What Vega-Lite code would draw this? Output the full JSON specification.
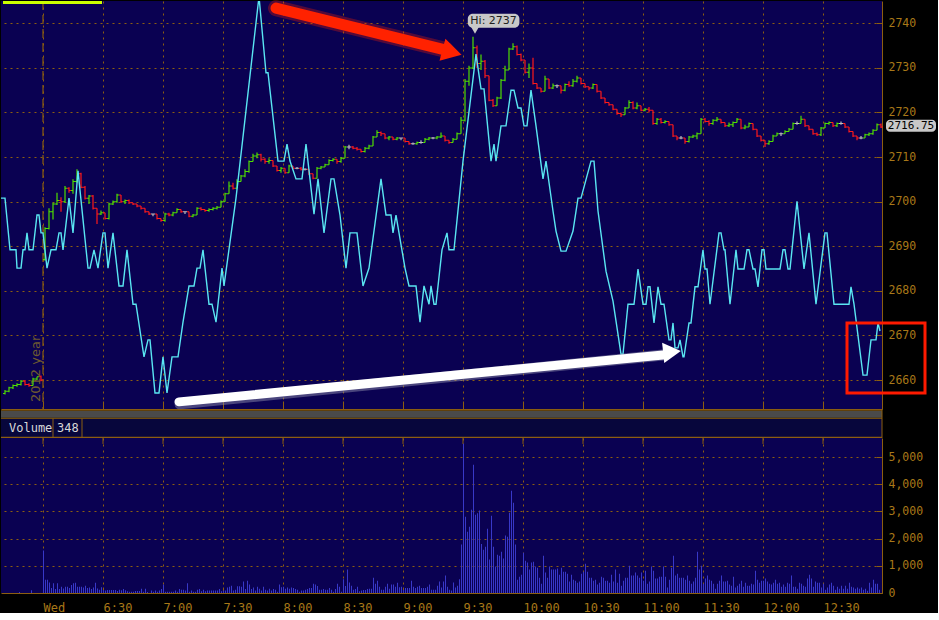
{
"$schema": "https://vega.github.io/schema/vega-lite/v6.json",
"background": "#000000",
"padding": {"left": 0, "top": 0, "right": 2, "bottom": 0},
"config": {
  "view": {"stroke": null},
  "scale": {"continuousPadding": 0},
  "axis": {"labelFont": "DejaVu Sans Mono", "labelColor": "#a87818", "domainColor": "#8c5e10", "tickColor": "#8c5e10", "gridColor": "#8c5e10", "gridDash": [2, 4], "gridOpacity": 1, "gridWidth": 1}
},
"datasets": {
"one": [{}],
"halfhours": [{"m":360},{"m":390},{"m":420},{"m":450},{"m":480},{"m":510},{"m":540},{"m":570},{"m":600},{"m":630},{"m":660},{"m":690},{"m":720},{"m":750}],
"bars": [
{"m":340,"o":2657,"h":2657.75,"l":2656.75,"c":2657.5},{"m":342,"o":2657.5,"h":2658.5,"l":2657.25,"c":2658.25},{"m":344,"o":2658.25,"h":2659,"l":2658,"c":2658.75},{"m":346,"o":2658.75,"h":2659.25,"l":2658.5,"c":2659},{"m":348,"o":2659,"h":2660,"l":2658.75,"c":2659.75},{"m":350,"o":2659.75,"h":2660,"l":2658.75,"c":2659},{"m":352,"o":2659,"h":2659.25,"l":2658.5,"c":2658.75},{"m":354,"o":2658.75,"h":2660.5,"l":2658.75,"c":2660.25},{"m":356,"o":2660.25,"h":2660.75,"l":2660,"c":2660.75},{"m":358,"o":2660.75,"h":2661,"l":2659.75,"c":2660},
{"m":360,"o":2687,"h":2694.25,"l":2686.75,"c":2694},{"m":362,"o":2694,"h":2698.5,"l":2693.75,"c":2697.75},{"m":364,"o":2697.75,"h":2699.75,"l":2696,"c":2699.5},{"m":366,"o":2699.5,"h":2702,"l":2699.25,"c":2700.25},{"m":368,"o":2700.25,"h":2701,"l":2697.75,"c":2700},{"m":370,"o":2700,"h":2703.5,"l":2699.75,"c":2703},{"m":372,"o":2703,"h":2703.25,"l":2702,"c":2702.5},{"m":374,"o":2702.5,"h":2705,"l":2701.75,"c":2704.5},{"m":376,"o":2704.5,"h":2707.25,"l":2704.25,"c":2706.25},{"m":378,"o":2706.25,"h":2706.5,"l":2703,"c":2703.25},
{"m":380,"o":2703.25,"h":2703.5,"l":2700.5,"c":2700.75},{"m":382,"o":2700.75,"h":2701.5,"l":2699.5,"c":2701.25},{"m":384,"o":2701.25,"h":2701.5,"l":2698.25,"c":2698.5},{"m":386,"o":2698.5,"h":2698.5,"l":2695,"c":2697.25},{"m":388,"o":2697.25,"h":2698,"l":2697,"c":2697.5},{"m":390,"o":2697.5,"h":2697.5,"l":2696,"c":2696.25},{"m":392,"o":2696.25,"h":2699.75,"l":2696,"c":2699.5},{"m":394,"o":2699.5,"h":2700.25,"l":2699.25,"c":2700},{"m":396,"o":2700,"h":2701.75,"l":2699.75,"c":2701.5},{"m":398,"o":2701.5,"h":2701.5,"l":2699.75,"c":2700},
{"m":400,"o":2700,"h":2700.5,"l":2699.5,"c":2700.25},{"m":402,"o":2700.25,"h":2700.5,"l":2699.5,"c":2699.75},{"m":404,"o":2699.75,"h":2699.75,"l":2699.25,"c":2699.5},{"m":406,"o":2699.5,"h":2699.5,"l":2698.75,"c":2699},{"m":408,"o":2699,"h":2699,"l":2698.25,"c":2698.5},{"m":410,"o":2698.5,"h":2698.5,"l":2697.5,"c":2697.75},{"m":412,"o":2697.75,"h":2697.75,"l":2697,"c":2697.25},{"m":414,"o":2697.25,"h":2697.25,"l":2696.75,"c":2697.25},{"m":416,"o":2697.25,"h":2697.25,"l":2696,"c":2696.25},{"m":418,"o":2696.25,"h":2696.25,"l":2695.5,"c":2695.75},
{"m":420,"o":2695.75,"h":2697.5,"l":2695.5,"c":2697.25},{"m":422,"o":2697.25,"h":2697.5,"l":2696.75,"c":2697},{"m":424,"o":2697,"h":2697.75,"l":2696.75,"c":2697.5},{"m":426,"o":2697.5,"h":2698.5,"l":2697.5,"c":2698.25},{"m":428,"o":2698.25,"h":2698.25,"l":2697.5,"c":2697.75},{"m":430,"o":2697.75,"h":2697.75,"l":2697.25,"c":2697.75},{"m":432,"o":2697.75,"h":2697.75,"l":2696.5,"c":2696.75},{"m":434,"o":2696.75,"h":2697.25,"l":2696.5,"c":2697},{"m":436,"o":2697,"h":2698.75,"l":2697,"c":2698.5},{"m":438,"o":2698.5,"h":2698.75,"l":2698,"c":2698.25},
{"m":440,"o":2698.25,"h":2698.25,"l":2697.75,"c":2698},{"m":442,"o":2698,"h":2698.5,"l":2697.75,"c":2698.25},{"m":444,"o":2698.25,"h":2698.75,"l":2698,"c":2698.5},{"m":446,"o":2698.5,"h":2699,"l":2698.25,"c":2698.75},{"m":448,"o":2698.75,"h":2700.25,"l":2698.75,"c":2700},{"m":450,"o":2700,"h":2702,"l":2700,"c":2701.75},{"m":452,"o":2701.75,"h":2704.5,"l":2701.75,"c":2703.5},{"m":454,"o":2703.5,"h":2704.25,"l":2702.75,"c":2703},{"m":456,"o":2703,"h":2705,"l":2703,"c":2704.5},{"m":458,"o":2704.5,"h":2706,"l":2704.5,"c":2705.75},
{"m":460,"o":2705.75,"h":2707.25,"l":2705.5,"c":2706.75},{"m":462,"o":2706.75,"h":2709.25,"l":2706.5,"c":2709},{"m":464,"o":2709,"h":2710.75,"l":2709,"c":2710.25},{"m":466,"o":2710.25,"h":2711,"l":2709.75,"c":2710.5},{"m":468,"o":2710.5,"h":2710.75,"l":2709,"c":2709.5},{"m":470,"o":2709.5,"h":2709.75,"l":2708.5,"c":2709},{"m":472,"o":2709,"h":2709.75,"l":2708.5,"c":2709.25},{"m":474,"o":2709.25,"h":2709.25,"l":2707.75,"c":2708},{"m":476,"o":2708,"h":2708,"l":2706.75,"c":2707},{"m":478,"o":2707,"h":2707.75,"l":2706.5,"c":2707.5},
{"m":480,"o":2707.5,"h":2707.5,"l":2706.25,"c":2706.5},{"m":482,"o":2706.5,"h":2708.25,"l":2706.5,"c":2708},{"m":484,"o":2708,"h":2708,"l":2707.25,"c":2707.5},{"m":486,"o":2707.5,"h":2707.75,"l":2707.25,"c":2707.5},{"m":488,"o":2707.5,"h":2707.75,"l":2707,"c":2707.25},{"m":490,"o":2707.25,"h":2707.5,"l":2707,"c":2707.25},{"m":492,"o":2707.25,"h":2707.25,"l":2706,"c":2706.25},{"m":494,"o":2706.25,"h":2706.25,"l":2705,"c":2705.25},{"m":496,"o":2705.25,"h":2707.75,"l":2705.25,"c":2707.5},{"m":498,"o":2707.5,"h":2708,"l":2707.25,"c":2707.75},
{"m":500,"o":2707.75,"h":2708.5,"l":2707.75,"c":2708.25},{"m":502,"o":2708.25,"h":2709.5,"l":2708.25,"c":2709.25},{"m":504,"o":2709.25,"h":2709.75,"l":2709,"c":2709.5},{"m":506,"o":2709.5,"h":2709.5,"l":2708.5,"c":2709},{"m":508,"o":2709,"h":2710,"l":2708.75,"c":2709.75},{"m":510,"o":2709.75,"h":2712.5,"l":2709.75,"c":2712.25},{"m":512,"o":2712.25,"h":2712.75,"l":2711.75,"c":2712.25},{"m":514,"o":2712.25,"h":2712.5,"l":2711.75,"c":2712},{"m":516,"o":2712,"h":2712.25,"l":2711.5,"c":2711.75},{"m":518,"o":2711.75,"h":2711.75,"l":2711,"c":2711.25},
{"m":520,"o":2711.25,"h":2712.25,"l":2711,"c":2712},{"m":522,"o":2712,"h":2712.75,"l":2711.75,"c":2712.5},{"m":524,"o":2712.5,"h":2714.75,"l":2712.5,"c":2714.5},{"m":526,"o":2714.5,"h":2716,"l":2714.5,"c":2715.5},{"m":528,"o":2715.5,"h":2715.75,"l":2714.75,"c":2715.25},{"m":530,"o":2715.25,"h":2715.25,"l":2714,"c":2714.25},{"m":532,"o":2714.25,"h":2714.75,"l":2713.75,"c":2714.5},{"m":534,"o":2714.5,"h":2714.5,"l":2713.75,"c":2714},{"m":536,"o":2714,"h":2714.5,"l":2713.75,"c":2714.25},{"m":538,"o":2714.25,"h":2714.25,"l":2713.75,"c":2714.25},
{"m":540,"o":2714.25,"h":2714.25,"l":2713.25,"c":2713.5},{"m":542,"o":2713.5,"h":2713.5,"l":2712.75,"c":2713},{"m":544,"o":2713,"h":2713.25,"l":2712.75,"c":2713},{"m":546,"o":2713,"h":2713.5,"l":2712.75,"c":2713.25},{"m":548,"o":2713.25,"h":2713.75,"l":2713,"c":2713.25},{"m":550,"o":2713.25,"h":2714.25,"l":2713.25,"c":2714},{"m":552,"o":2714,"h":2714.5,"l":2713.75,"c":2714.25},{"m":554,"o":2714.25,"h":2714.5,"l":2714,"c":2714.25},{"m":556,"o":2714.25,"h":2714.75,"l":2714,"c":2714.5},{"m":558,"o":2714.5,"h":2715.5,"l":2714.25,"c":2714.75},
{"m":560,"o":2714.75,"h":2714.75,"l":2713.5,"c":2713.75},{"m":562,"o":2713.75,"h":2713.75,"l":2713,"c":2713.25},{"m":564,"o":2713.25,"h":2714.25,"l":2713.25,"c":2714},{"m":566,"o":2714,"h":2715.5,"l":2714,"c":2715.25},{"m":568,"o":2715.25,"h":2719,"l":2715.25,"c":2718.25},{"m":570,"o":2718.25,"h":2727.5,"l":2718,"c":2727},{"m":572,"o":2727,"h":2730.5,"l":2726,"c":2730},{"m":574,"o":2730,"h":2737,"l":2729.75,"c":2734.5},{"m":576,"o":2734.5,"h":2735,"l":2730,"c":2731},{"m":578,"o":2731,"h":2733,"l":2729.5,"c":2731.5},
{"m":580,"o":2731.5,"h":2731.75,"l":2727.75,"c":2728.25},{"m":582,"o":2728.25,"h":2728.25,"l":2722.5,"c":2722.75},{"m":584,"o":2722.75,"h":2723,"l":2721.25,"c":2721.5},{"m":586,"o":2721.5,"h":2723.5,"l":2721.5,"c":2723.25},{"m":588,"o":2723.25,"h":2727.5,"l":2723,"c":2727.25},{"m":590,"o":2727.25,"h":2730.5,"l":2727,"c":2729.5},{"m":592,"o":2729.5,"h":2734.5,"l":2729.5,"c":2734.25},{"m":594,"o":2734.25,"h":2735.5,"l":2734,"c":2734.75},{"m":596,"o":2734.75,"h":2735,"l":2732.75,"c":2733},{"m":598,"o":2733,"h":2733.25,"l":2731.5,"c":2731.75},
{"m":600,"o":2731.75,"h":2731.75,"l":2728.75,"c":2729},{"m":602,"o":2729,"h":2731,"l":2727.75,"c":2730},{"m":604,"o":2730,"h":2732.25,"l":2726.25,"c":2726.5},{"m":606,"o":2726.5,"h":2726.5,"l":2725.25,"c":2725.5},{"m":608,"o":2725.5,"h":2725.5,"l":2724.5,"c":2724.75},{"m":610,"o":2724.75,"h":2728.25,"l":2724.75,"c":2727.5},{"m":612,"o":2727.5,"h":2727.5,"l":2725.25,"c":2725.5},{"m":614,"o":2725.5,"h":2726.5,"l":2725.25,"c":2726},{"m":616,"o":2726,"h":2726.25,"l":2725.5,"c":2726},{"m":618,"o":2726,"h":2726,"l":2724.25,"c":2725},
{"m":620,"o":2725,"h":2726.5,"l":2724.75,"c":2726.25},{"m":622,"o":2726.25,"h":2727,"l":2725.75,"c":2726},{"m":624,"o":2726,"h":2727.5,"l":2725.75,"c":2727},{"m":626,"o":2727,"h":2728.25,"l":2726.75,"c":2727.75},{"m":628,"o":2727.75,"h":2727.75,"l":2726.25,"c":2726.5},{"m":630,"o":2726.5,"h":2726.5,"l":2725.5,"c":2725.75},{"m":632,"o":2725.75,"h":2725.75,"l":2725,"c":2725.5},{"m":634,"o":2725.5,"h":2726.5,"l":2725.25,"c":2726.25},{"m":636,"o":2726.25,"h":2726.25,"l":2724.5,"c":2724.75},{"m":638,"o":2724.75,"h":2724.75,"l":2723,"c":2723.25},
{"m":640,"o":2723.25,"h":2723.25,"l":2722,"c":2722.25},{"m":642,"o":2722.25,"h":2722.25,"l":2721.5,"c":2721.75},{"m":644,"o":2721.75,"h":2721.75,"l":2720.5,"c":2720.75},{"m":646,"o":2720.75,"h":2720.75,"l":2719.5,"c":2719.75},{"m":648,"o":2719.75,"h":2720,"l":2719,"c":2719.5},{"m":650,"o":2719.5,"h":2721.25,"l":2719.5,"c":2721},{"m":652,"o":2721,"h":2722.75,"l":2721,"c":2722.25},{"m":654,"o":2722.25,"h":2722.5,"l":2720.75,"c":2721},{"m":656,"o":2721,"h":2722.25,"l":2720.75,"c":2721.5},{"m":658,"o":2721.5,"h":2721.5,"l":2720.25,"c":2720.5},
{"m":660,"o":2720.5,"h":2721,"l":2720.25,"c":2720.75},{"m":662,"o":2720.75,"h":2721.25,"l":2720,"c":2720.5},{"m":664,"o":2720.5,"h":2720.5,"l":2717.25,"c":2717.5},{"m":666,"o":2717.5,"h":2718.75,"l":2717.25,"c":2718.5},{"m":668,"o":2718.5,"h":2718.75,"l":2717.5,"c":2717.75},{"m":670,"o":2717.75,"h":2718.25,"l":2717.5,"c":2718},{"m":672,"o":2718,"h":2718,"l":2717,"c":2717.25},{"m":674,"o":2717.25,"h":2717.25,"l":2714.5,"c":2714.75},{"m":676,"o":2714.75,"h":2714.75,"l":2713.75,"c":2714.25},{"m":678,"o":2714.25,"h":2714.75,"l":2714,"c":2714.25},
{"m":680,"o":2714.25,"h":2714.25,"l":2713,"c":2713.5},{"m":682,"o":2713.5,"h":2714.75,"l":2713.25,"c":2714.5},{"m":684,"o":2714.5,"h":2715,"l":2714.25,"c":2714.75},{"m":686,"o":2714.75,"h":2715.5,"l":2714,"c":2715.25},{"m":688,"o":2715.25,"h":2718.75,"l":2715.25,"c":2718.5},{"m":690,"o":2718.5,"h":2718.75,"l":2717.75,"c":2718},{"m":692,"o":2718,"h":2718.25,"l":2717,"c":2717.5},{"m":694,"o":2717.5,"h":2718.5,"l":2717.25,"c":2718.25},{"m":696,"o":2718.25,"h":2719,"l":2718,"c":2718.5},{"m":698,"o":2718.5,"h":2718.5,"l":2717.5,"c":2717.75},
{"m":700,"o":2717.75,"h":2717.75,"l":2716.75,"c":2717},{"m":702,"o":2717,"h":2717.75,"l":2716.75,"c":2717.25},{"m":704,"o":2717.25,"h":2718,"l":2716.75,"c":2717.75},{"m":706,"o":2717.75,"h":2718.75,"l":2717.75,"c":2718.5},{"m":708,"o":2718.5,"h":2718.5,"l":2716.25,"c":2716.5},{"m":710,"o":2716.5,"h":2717.25,"l":2716.25,"c":2716.75},{"m":712,"o":2716.75,"h":2717.75,"l":2716.75,"c":2717.5},{"m":714,"o":2717.5,"h":2717.5,"l":2716,"c":2716.25},{"m":716,"o":2716.25,"h":2716.25,"l":2714.5,"c":2714.75},{"m":718,"o":2714.75,"h":2714.75,"l":2713.5,"c":2713.75},
{"m":720,"o":2713.75,"h":2713.75,"l":2712.25,"c":2713},{"m":722,"o":2713,"h":2713.75,"l":2712.75,"c":2713.5},{"m":724,"o":2713.5,"h":2715,"l":2713.5,"c":2714.75},{"m":726,"o":2714.75,"h":2715.5,"l":2714.75,"c":2715.25},{"m":728,"o":2715.25,"h":2715.5,"l":2714.75,"c":2715.25},{"m":730,"o":2715.25,"h":2716,"l":2715.25,"c":2715.75},{"m":732,"o":2715.75,"h":2716.5,"l":2715.75,"c":2716.25},{"m":734,"o":2716.25,"h":2717.75,"l":2716.25,"c":2717.5},{"m":736,"o":2717.5,"h":2718,"l":2717.25,"c":2717.5},{"m":738,"o":2717.5,"h":2719.25,"l":2717.5,"c":2718.5},
{"m":740,"o":2718.5,"h":2718.5,"l":2716.75,"c":2717},{"m":742,"o":2717,"h":2717,"l":2716,"c":2716.25},{"m":744,"o":2716.25,"h":2716.25,"l":2715,"c":2715.25},{"m":746,"o":2715.25,"h":2715.5,"l":2714.75,"c":2715},{"m":748,"o":2715,"h":2716.75,"l":2714.75,"c":2716.5},{"m":750,"o":2716.5,"h":2717.75,"l":2716.5,"c":2717.5},{"m":752,"o":2717.5,"h":2718,"l":2717.25,"c":2717.75},{"m":754,"o":2717.75,"h":2717.75,"l":2716.75,"c":2717},{"m":756,"o":2717,"h":2717.75,"l":2716.75,"c":2717.5},{"m":758,"o":2717.5,"h":2718,"l":2717.25,"c":2717.5},
{"m":760,"o":2717.5,"h":2717.5,"l":2716.5,"c":2716.75},{"m":762,"o":2716.75,"h":2716.75,"l":2715.5,"c":2715.75},{"m":764,"o":2715.75,"h":2715.75,"l":2714.5,"c":2714.75},{"m":766,"o":2714.75,"h":2714.75,"l":2713.75,"c":2714.25},{"m":768,"o":2714.25,"h":2714.75,"l":2714,"c":2714.25},{"m":770,"o":2714.25,"h":2715.25,"l":2714.25,"c":2715},{"m":772,"o":2715,"h":2715.5,"l":2714.75,"c":2715.25},{"m":774,"o":2715.25,"h":2716.25,"l":2715,"c":2716},{"m":776,"o":2716,"h":2717.5,"l":2716,"c":2717.25},{"m":778,"o":2717.25,"h":2717.5,"l":2716.5,"c":2716.75}
],
"ind": [
{"m":339,"ind":2700.8},{"m":341,"ind":2700.8},{"m":343.5,"ind":2689.2},{"m":346.5,"ind":2689.2},{"m":347,"ind":2685.1},{"m":349,"ind":2685.1},{"m":350,"ind":2689.2},{"m":351,"ind":2689.2},{"m":352,"ind":2693},{"m":353,"ind":2689.2},{"m":355,"ind":2689.2},{"m":357,"ind":2697},{"m":358,"ind":2697},{"m":359,"ind":2693},{"m":360,"ind":2693},{"m":362,"ind":2685.1},{"m":364,"ind":2689.2},{"m":366.5,"ind":2689.2},{"m":368,"ind":2693},{"m":369,"ind":2693},{"m":370,"ind":2689.2},{"m":373,"ind":2700.8},{"m":375,"ind":2693},{"m":377.5,"ind":2706.9},{"m":382.5,"ind":2685.1},{"m":383.5,"ind":2685.1},{"m":385.5,"ind":2689.2},{"m":387.5,"ind":2685.1},{"m":390,"ind":2693},{"m":391,"ind":2693},{"m":392.5,"ind":2685.1},{"m":395,"ind":2693},{"m":398,"ind":2681.1},{"m":400,"ind":2681.1},{"m":402,"ind":2689.2},{"m":405,"ind":2677},{"m":406.5,"ind":2677},{"m":410.5,"ind":2665.2},{"m":412.5,"ind":2669},{"m":413.5,"ind":2669},{"m":416,"ind":2657.1},{"m":418,"ind":2657.1},{"m":420,"ind":2665.2},{"m":422,"ind":2657.1},{"m":424.5,"ind":2665.2},{"m":427.5,"ind":2665.2},{"m":430,"ind":2673},{"m":433,"ind":2681.1},{"m":435.5,"ind":2681.1},{"m":437,"ind":2685.1},{"m":438.5,"ind":2685.1},{"m":440,"ind":2689.2},{"m":443,"ind":2677},{"m":444.5,"ind":2677},{"m":446.5,"ind":2673},{"m":449.5,"ind":2685.1},{"m":450.5,"ind":2681.1},{"m":456.5,"ind":2700.8},{"m":468,"ind":2746},{"m":471.5,"ind":2728.9},{"m":472.5,"ind":2728.9},{"m":477.5,"ind":2709.1},{"m":480.5,"ind":2709.1},{"m":482,"ind":2712.9},{"m":483.5,"ind":2709.1},{"m":486.5,"ind":2705.1},{"m":489.5,"ind":2705.1},{"m":491.5,"ind":2712.9},{"m":495.5,"ind":2697.2},{"m":497.5,"ind":2705.1},{"m":500.5,"ind":2693},{"m":504,"ind":2705.1},{"m":505.5,"ind":2705.1},{"m":508.5,"ind":2697},{"m":511.5,"ind":2685.1},{"m":513.5,"ind":2693},{"m":517,"ind":2693},{"m":520,"ind":2681.1},{"m":523,"ind":2685.1},{"m":529,"ind":2705.1},{"m":531.5,"ind":2697},{"m":534,"ind":2697},{"m":535,"ind":2693},{"m":536.5,"ind":2697},{"m":538,"ind":2693},{"m":541,"ind":2685.1},{"m":543,"ind":2681.1},{"m":546.5,"ind":2681.1},{"m":548.5,"ind":2673},{"m":550.5,"ind":2681.1},{"m":553,"ind":2677},{"m":554,"ind":2681.1},{"m":555.5,"ind":2677},{"m":556.5,"ind":2677},{"m":559.5,"ind":2689.2},{"m":562,"ind":2693},{"m":563,"ind":2689.2},{"m":565.5,"ind":2689.2},{"m":570,"ind":2709.1},{"m":576.5,"ind":2733.1},{"m":579,"ind":2725.3},{"m":580.5,"ind":2725.3},{"m":584,"ind":2709.1},{"m":585.5,"ind":2712.9},{"m":586.5,"ind":2709.1},{"m":589,"ind":2717},{"m":591.5,"ind":2717},{"m":594,"ind":2725},{"m":595.5,"ind":2725},{"m":597.5,"ind":2721},{"m":599,"ind":2721},{"m":600.5,"ind":2717},{"m":602,"ind":2717},{"m":604,"ind":2725},{"m":606.5,"ind":2717},{"m":610,"ind":2705.1},{"m":611.5,"ind":2709.1},{"m":615,"ind":2697.9},{"m":616.5,"ind":2693.4},{"m":619,"ind":2688.9},{"m":621.5,"ind":2688.9},{"m":625,"ind":2693.4},{"m":627.5,"ind":2700.8},{"m":629,"ind":2700.8},{"m":634,"ind":2709.1},{"m":635.5,"ind":2709.1},{"m":637.5,"ind":2697.9},{"m":641.5,"ind":2684.4},{"m":645,"ind":2677.7},{"m":649,"ind":2665.8},{"m":650,"ind":2665.8},{"m":652.5,"ind":2677},{"m":655.5,"ind":2677},{"m":657.5,"ind":2684.9},{"m":660,"ind":2677},{"m":661.5,"ind":2677},{"m":662.5,"ind":2680.9},{"m":663.5,"ind":2680.9},{"m":665.5,"ind":2672.8},{"m":667.5,"ind":2680.9},{"m":669,"ind":2677},{"m":670.5,"ind":2677},{"m":673,"ind":2669},{"m":674,"ind":2669},{"m":675,"ind":2672.8},{"m":676,"ind":2667.2},{"m":677.5,"ind":2667.2},{"m":678.5,"ind":2669},{"m":680,"ind":2665.2},{"m":680.5,"ind":2665.2},{"m":683,"ind":2672.8},{"m":684,"ind":2672.8},{"m":686,"ind":2680.9},{"m":687.5,"ind":2680.9},{"m":690,"ind":2689.2},{"m":691,"ind":2684.9},{"m":692,"ind":2684.9},{"m":693.5,"ind":2677},{"m":698,"ind":2693},{"m":699,"ind":2693},{"m":700.5,"ind":2689.2},{"m":701,"ind":2689.2},{"m":703.5,"ind":2677},{"m":706.5,"ind":2689.2},{"m":707.5,"ind":2684.9},{"m":710.5,"ind":2684.9},{"m":712,"ind":2689.2},{"m":713,"ind":2689.2},{"m":715,"ind":2684.9},{"m":716,"ind":2684.9},{"m":717.5,"ind":2680.9},{"m":719.5,"ind":2689.2},{"m":720.5,"ind":2689.2},{"m":721.5,"ind":2684.9},{"m":728.5,"ind":2684.9},{"m":730,"ind":2689.2},{"m":731,"ind":2689.2},{"m":732.5,"ind":2684.9},{"m":733.5,"ind":2684.9},{"m":737,"ind":2700.1},{"m":740.5,"ind":2684.9},{"m":743,"ind":2693},{"m":746.5,"ind":2677},{"m":751,"ind":2693},{"m":752,"ind":2693},{"m":755.5,"ind":2677},{"m":763,"ind":2677},{"m":764,"ind":2680.9},{"m":765.5,"ind":2677},{"m":770,"ind":2661.1},{"m":772,"ind":2661.1},{"m":774,"ind":2669},{"m":776.5,"ind":2669},{"m":777.5,"ind":2672.8},{"m":778.5,"ind":2671}
],
"vol": [
{"m":348,"v":40},{"m":354,"v":100},
{"m":360,"v":1560},{"m":361,"v":490},{"m":362,"v":490},{"m":363,"v":390},{"m":364,"v":180},{"m":365,"v":360},{"m":366,"v":150},{"m":367,"v":360},{"m":368,"v":150},{"m":369,"v":230},
{"m":370,"v":170},{"m":371,"v":230},{"m":372,"v":230},{"m":373,"v":180},{"m":374,"v":290},{"m":375,"v":360},{"m":376,"v":380},{"m":377,"v":230},{"m":378,"v":230},{"m":379,"v":230},
{"m":380,"v":200},{"m":381,"v":270},{"m":382,"v":180},{"m":383,"v":200},{"m":384,"v":150},{"m":385,"v":200},{"m":386,"v":380},{"m":387,"v":170},{"m":388,"v":120},{"m":389,"v":210},
{"m":390,"v":110},{"m":391,"v":90},{"m":392,"v":110},{"m":393,"v":110},{"m":394,"v":110},{"m":395,"v":110},{"m":396,"v":110},{"m":397,"v":70},{"m":398,"v":120},{"m":399,"v":100},
{"m":400,"v":150},{"m":401,"v":100},{"m":402,"v":60},{"m":403,"v":50},{"m":404,"v":50},{"m":405,"v":50},{"m":406,"v":70},{"m":407,"v":70},{"m":408,"v":70},{"m":409,"v":160},
{"m":410,"v":50},{"m":411,"v":160},{"m":412,"v":40},{"m":413,"v":0},{"m":414,"v":90},{"m":415,"v":50},{"m":416,"v":90},{"m":417,"v":50},{"m":418,"v":90},{"m":419,"v":150},
{"m":420,"v":310},{"m":421,"v":50},{"m":422,"v":50},{"m":423,"v":50},{"m":424,"v":50},{"m":425,"v":50},{"m":426,"v":90},{"m":427,"v":50},{"m":428,"v":150},{"m":429,"v":120},
{"m":430,"v":120},{"m":431,"v":90},{"m":432,"v":360},{"m":433,"v":50},{"m":434,"v":90},{"m":435,"v":50},{"m":436,"v":50},{"m":437,"v":120},{"m":438,"v":150},{"m":439,"v":60},
{"m":440,"v":120},{"m":441,"v":60},{"m":442,"v":90},{"m":443,"v":90},{"m":444,"v":90},{"m":445,"v":90},{"m":446,"v":90},{"m":447,"v":90},{"m":448,"v":150},{"m":449,"v":60},
{"m":450,"v":90},{"m":451,"v":90},{"m":452,"v":200},{"m":453,"v":230},{"m":454,"v":270},{"m":455,"v":90},{"m":456,"v":120},{"m":457,"v":250},{"m":458,"v":250},{"m":459,"v":230},
{"m":460,"v":420},{"m":461,"v":150},{"m":462,"v":450},{"m":463,"v":310},{"m":464,"v":150},{"m":465,"v":200},{"m":466,"v":90},{"m":467,"v":230},{"m":468,"v":160},{"m":469,"v":90},
{"m":470,"v":230},{"m":471,"v":120},{"m":472,"v":90},{"m":473,"v":160},{"m":474,"v":90},{"m":475,"v":150},{"m":476,"v":120},{"m":477,"v":50},{"m":478,"v":310},{"m":479,"v":210},
{"m":480,"v":230},{"m":481,"v":160},{"m":482,"v":200},{"m":483,"v":160},{"m":484,"v":200},{"m":485,"v":180},{"m":486,"v":150},{"m":487,"v":120},{"m":488,"v":50},{"m":489,"v":90},
{"m":490,"v":90},{"m":491,"v":120},{"m":492,"v":150},{"m":493,"v":180},{"m":494,"v":180},{"m":495,"v":340},{"m":496,"v":310},{"m":497,"v":260},{"m":498,"v":120},{"m":499,"v":120},
{"m":500,"v":150},{"m":501,"v":120},{"m":502,"v":120},{"m":503,"v":180},{"m":504,"v":120},{"m":505,"v":50},{"m":506,"v":150},{"m":507,"v":340},{"m":508,"v":230},{"m":509,"v":50},
{"m":510,"v":510},{"m":511,"v":260},{"m":512,"v":860},{"m":513,"v":390},{"m":514,"v":270},{"m":515,"v":120},{"m":516,"v":150},{"m":517,"v":230},{"m":518,"v":60},{"m":519,"v":90},
{"m":520,"v":110},{"m":521,"v":110},{"m":522,"v":150},{"m":523,"v":160},{"m":524,"v":160},{"m":525,"v":560},{"m":526,"v":340},{"m":527,"v":450},{"m":528,"v":230},{"m":529,"v":120},
{"m":530,"v":120},{"m":531,"v":230},{"m":532,"v":340},{"m":533,"v":160},{"m":534,"v":310},{"m":535,"v":310},{"m":536,"v":230},{"m":537,"v":380},{"m":538,"v":210},{"m":539,"v":230},
{"m":540,"v":120},{"m":541,"v":180},{"m":542,"v":180},{"m":543,"v":180},{"m":544,"v":450},{"m":545,"v":230},{"m":546,"v":180},{"m":547,"v":230},{"m":548,"v":270},{"m":549,"v":180},
{"m":550,"v":180},{"m":551,"v":180},{"m":552,"v":230},{"m":553,"v":310},{"m":554,"v":120},{"m":555,"v":120},{"m":556,"v":120},{"m":557,"v":270},{"m":558,"v":420},{"m":559,"v":200},
{"m":560,"v":420},{"m":561,"v":640},{"m":562,"v":230},{"m":563,"v":120},{"m":564,"v":90},{"m":565,"v":390},{"m":566,"v":200},{"m":567,"v":270},{"m":568,"v":510},{"m":569,"v":1780},
{"m":570,"v":5500},{"m":571,"v":2800},{"m":572,"v":2250},{"m":573,"v":2440},{"m":574,"v":3060},{"m":575,"v":4720},{"m":576,"v":2880},{"m":577,"v":2930},{"m":578,"v":3030},{"m":579,"v":1800},
{"m":580,"v":1590},{"m":581,"v":1700},{"m":582,"v":2360},{"m":583,"v":1230},{"m":584,"v":2840},{"m":585,"v":1700},{"m":586,"v":970},{"m":587,"v":1410},{"m":588,"v":1370},{"m":589,"v":1520},
{"m":590,"v":1270},{"m":591,"v":2110},{"m":592,"v":2070},{"m":593,"v":2950},{"m":594,"v":3760},{"m":595,"v":3320},{"m":596,"v":1780},{"m":597,"v":490},{"m":598,"v":600},{"m":599,"v":670},
{"m":600,"v":1480},{"m":601,"v":1190},{"m":602,"v":1120},{"m":603,"v":860},{"m":604,"v":1120},{"m":605,"v":1150},{"m":606,"v":970},{"m":607,"v":930},{"m":608,"v":560},{"m":609,"v":340},
{"m":610,"v":1370},{"m":611,"v":750},{"m":612,"v":560},{"m":613,"v":970},{"m":614,"v":860},{"m":615,"v":860},{"m":616,"v":860},{"m":617,"v":900},{"m":618,"v":670},{"m":619,"v":930},
{"m":620,"v":780},{"m":621,"v":780},{"m":622,"v":710},{"m":623,"v":420},{"m":624,"v":670},{"m":625,"v":490},{"m":626,"v":450},{"m":627,"v":380},{"m":628,"v":420},{"m":629,"v":710},
{"m":630,"v":780},{"m":631,"v":1080},{"m":632,"v":780},{"m":633,"v":560},{"m":634,"v":560},{"m":635,"v":450},{"m":636,"v":490},{"m":637,"v":310},{"m":638,"v":380},{"m":639,"v":600},
{"m":640,"v":560},{"m":641,"v":450},{"m":642,"v":450},{"m":643,"v":380},{"m":644,"v":670},{"m":645,"v":420},{"m":646,"v":860},{"m":647,"v":380},{"m":648,"v":710},{"m":649,"v":270},
{"m":650,"v":450},{"m":651,"v":560},{"m":652,"v":560},{"m":653,"v":1000},{"m":654,"v":640},{"m":655,"v":640},{"m":656,"v":750},{"m":657,"v":640},{"m":658,"v":560},{"m":659,"v":750},
{"m":660,"v":450},{"m":661,"v":820},{"m":662,"v":340},{"m":663,"v":420},{"m":664,"v":970},{"m":665,"v":820},{"m":666,"v":530},{"m":667,"v":530},{"m":668,"v":600},{"m":669,"v":600},
{"m":670,"v":970},{"m":671,"v":600},{"m":672,"v":200},{"m":673,"v":490},{"m":674,"v":930},{"m":675,"v":1370},{"m":676,"v":640},{"m":677,"v":710},{"m":678,"v":560},{"m":679,"v":560},
{"m":680,"v":560},{"m":681,"v":490},{"m":682,"v":640},{"m":683,"v":450},{"m":684,"v":340},{"m":685,"v":420},{"m":686,"v":560},{"m":687,"v":1520},{"m":688,"v":860},{"m":689,"v":1000},
{"m":690,"v":340},{"m":691,"v":530},{"m":692,"v":640},{"m":693,"v":490},{"m":694,"v":450},{"m":695,"v":340},{"m":696,"v":160},{"m":697,"v":340},{"m":698,"v":450},{"m":699,"v":640},
{"m":700,"v":420},{"m":701,"v":420},{"m":702,"v":450},{"m":703,"v":310},{"m":704,"v":270},{"m":705,"v":600},{"m":706,"v":200},{"m":707,"v":270},{"m":708,"v":340},{"m":709,"v":450},
{"m":710,"v":230},{"m":711,"v":380},{"m":712,"v":270},{"m":713,"v":270},{"m":714,"v":340},{"m":715,"v":310},{"m":716,"v":820},{"m":717,"v":490},{"m":718,"v":380},{"m":719,"v":450},
{"m":720,"v":450},{"m":721,"v":530},{"m":722,"v":420},{"m":723,"v":340},{"m":724,"v":310},{"m":725,"v":380},{"m":726,"v":490},{"m":727,"v":340},{"m":728,"v":380},{"m":729,"v":230},
{"m":730,"v":310},{"m":731,"v":230},{"m":732,"v":380},{"m":733,"v":340},{"m":734,"v":640},{"m":735,"v":230},{"m":736,"v":230},{"m":737,"v":160},{"m":738,"v":380},{"m":739,"v":340},
{"m":740,"v":270},{"m":741,"v":230},{"m":742,"v":530},{"m":743,"v":670},{"m":744,"v":530},{"m":745,"v":230},{"m":746,"v":420},{"m":747,"v":380},{"m":748,"v":380},{"m":749,"v":200},
{"m":750,"v":340},{"m":751,"v":120},{"m":752,"v":200},{"m":753,"v":310},{"m":754,"v":380},{"m":755,"v":270},{"m":756,"v":120},{"m":757,"v":230},{"m":758,"v":160},{"m":759,"v":270},
{"m":760,"v":160},{"m":761,"v":270},{"m":762,"v":160},{"m":763,"v":380},{"m":764,"v":230},{"m":765,"v":200},{"m":766,"v":160},{"m":767,"v":200},{"m":768,"v":160},{"m":769,"v":200},
{"m":770,"v":120},{"m":771,"v":160},{"m":772,"v":80},{"m":773,"v":380},{"m":774,"v":200},{"m":775,"v":490},{"m":776,"v":340},{"m":777,"v":340},{"m":778,"v":120}
]
},
"vconcat": [
{
  "width": 881, "height": 408,
  "view": {"fill": "#0a0152", "stroke": null},
  "layer": [
    {"data": {"name": "one"}, "mark": {"type": "rule", "color": "#8c5e10", "strokeDash": [9, 5], "strokeWidth": 1.2},
     "encoding": {"x": {"datum": 360, "type": "quantitative", "scale": {"domain": [339, 779.5], "nice": false, "zero": false, "padding": 0},
       "axis": {"orient": "bottom", "values": [360,390,420,450,480,510,540,570,600,630,660,690,720,750], "grid": true, "labels": false, "ticks": true, "tickSize": -8, "domain": true, "title": null}}}},
    {"data": {"name": "one"}, "mark": {"type": "text", "angle": 270, "font": "DejaVu Sans", "fontSize": 13, "color": "#6e5a30", "align": "center", "baseline": "middle"},
     "encoding": {"x": {"datum": 356.5, "type": "quantitative"}, "y": {"datum": 2662.5, "type": "quantitative", "scale": {"domain": [2653.5, 2745], "nice": false, "zero": false, "padding": 0},
       "axis": {"orient": "right", "values": [2660,2670,2680,2690,2700,2710,2720,2730,2740], "format": "d", "grid": true, "tickSize": -6, "labelPadding": 12, "labelFontSize": 11.5, "labelBaseline": "middle", "domain": true, "title": null}},
       "text": {"value": "2012 year"}}},
    {"data": {"name": "bars"}, "mark": {"type": "rule", "strokeWidth": 1.2, "xOffset": 2},
     "encoding": {"x": {"field": "m", "type": "quantitative"}, "y": {"field": "l", "type": "quantitative"}, "y2": {"field": "h"},
       "color": {"condition": [{"test": "datum.c > datum.o", "value": "#4fe000"}, {"test": "datum.c < datum.o", "value": "#ff1a1a"}], "value": "#bdbdbd"}}},
    {"data": {"name": "bars"}, "mark": {"type": "tick", "orient": "horizontal", "size": 2, "thickness": 1, "xOffset": 1, "opacity": 1},
     "encoding": {"x": {"field": "m", "type": "quantitative"}, "y": {"field": "o", "type": "quantitative"},
       "color": {"condition": [{"test": "datum.c > datum.o", "value": "#4fe000"}, {"test": "datum.c < datum.o", "value": "#ff1a1a"}], "value": "#bdbdbd"}}},
    {"data": {"name": "bars"}, "mark": {"type": "tick", "orient": "horizontal", "size": 2, "thickness": 1, "xOffset": 3, "opacity": 1},
     "encoding": {"x": {"field": "m", "type": "quantitative"}, "y": {"field": "c", "type": "quantitative"},
       "color": {"condition": [{"test": "datum.c > datum.o", "value": "#4fe000"}, {"test": "datum.c < datum.o", "value": "#ff1a1a"}], "value": "#bdbdbd"}}},
    {"data": {"name": "ind"}, "mark": {"type": "line", "color": "#5ae6f2", "strokeWidth": 1.4, "clip": true},
     "encoding": {"x": {"field": "m", "type": "quantitative"}, "y": {"field": "ind", "type": "quantitative"}}},
    {"data": {"name": "one"}, "mark": {"type": "rect", "color": "#ccff00"},
     "encoding": {"x": {"datum": 340, "type": "quantitative"}, "x2": {"datum": 389.5}, "y": {"datum": 2745, "type": "quantitative"}, "y2": {"datum": 2744.3}}},
    {"data": {"name": "one"}, "mark": {"type": "point", "shape": "triangle-down", "filled": true, "size": 60, "color": "#c8c8c8", "opacity": 1},
     "encoding": {"x": {"datum": 576, "type": "quantitative"}, "y": {"datum": 2738.4, "type": "quantitative"}}},
    {"data": {"name": "one"}, "mark": {"type": "rect", "color": "#c8c8c8", "cornerRadius": 5},
     "encoding": {"x": {"datum": 572.4, "type": "quantitative"}, "x2": {"datum": 598.2}, "y": {"datum": 2742.15, "type": "quantitative"}, "y2": {"datum": 2739.0}}},
    {"data": {"name": "one"}, "mark": {"type": "text", "font": "DejaVu Sans", "fontSize": 11, "color": "#202020", "align": "center", "baseline": "middle"},
     "encoding": {"x": {"datum": 585.3, "type": "quantitative"}, "y": {"datum": 2740.6, "type": "quantitative"}, "text": {"value": "Hi: 2737"}}},
    {"data": {"name": "one"}, "mark": {"type": "rule", "color": "#ff2200", "strokeWidth": 16, "strokeCap": "round", "opacity": 0.3},
     "encoding": {"x": {"datum": 476.5, "type": "quantitative"}, "y": {"datum": 2743.4, "type": "quantitative"}, "x2": {"datum": 561.5}, "y2": {"datum": 2734.0}}},
    {"data": {"name": "one"}, "mark": {"type": "rule", "color": "#ff2200", "strokeWidth": 11, "strokeCap": "round"},
     "encoding": {"x": {"datum": 476.5, "type": "quantitative"}, "y": {"datum": 2743.4, "type": "quantitative"}, "x2": {"datum": 561.5}, "y2": {"datum": 2734.0}}},
    {"data": {"name": "one"}, "mark": {"type": "point", "shape": "triangle-right", "filled": true, "size": 520, "angle": 15, "color": "#ff2200", "opacity": 1},
     "encoding": {"x": {"datum": 564.5, "type": "quantitative"}, "y": {"datum": 2733.5, "type": "quantitative"}}},
    {"data": {"name": "one"}, "mark": {"type": "rule", "color": "#8a8aa8", "strokeWidth": 11, "strokeCap": "round", "opacity": 0.5, "yOffset": 2, "xOffset": 1},
     "encoding": {"x": {"datum": 428, "type": "quantitative"}, "y": {"datum": 2655.1, "type": "quantitative"}, "x2": {"datum": 670}, "y2": {"datum": 2665.6}}},
    {"data": {"name": "one"}, "mark": {"type": "rule", "color": "#ffffff", "strokeWidth": 9, "strokeCap": "round"},
     "encoding": {"x": {"datum": 428, "type": "quantitative"}, "y": {"datum": 2655.1, "type": "quantitative"}, "x2": {"datum": 670}, "y2": {"datum": 2665.6}}},
    {"data": {"name": "one"}, "mark": {"type": "point", "shape": "triangle-right", "filled": true, "size": 420, "angle": 354, "color": "#ffffff", "opacity": 1},
     "encoding": {"x": {"datum": 674.5, "type": "quantitative"}, "y": {"datum": 2666.3, "type": "quantitative"}}},
    {"data": {"name": "one"}, "mark": {"type": "rect", "fill": "transparent", "stroke": "#ff1a00", "strokeWidth": 3},
     "encoding": {"x": {"datum": 762, "type": "quantitative"}, "x2": {"datum": 801}, "y": {"datum": 2672.8, "type": "quantitative"}, "y2": {"datum": 2657.1}}},
    {"data": {"name": "one"}, "mark": {"type": "rect", "color": "#c8c8c8", "cornerRadius": 4},
     "encoding": {"x": {"datum": 781.5, "type": "quantitative"}, "x2": {"datum": 806.5}, "y": {"datum": 2718.35, "type": "quantitative"}, "y2": {"datum": 2715.7}}},
    {"data": {"name": "one"}, "mark": {"type": "text", "font": "DejaVu Sans Mono", "fontSize": 11, "color": "#000000", "align": "center", "baseline": "middle"},
     "encoding": {"x": {"datum": 794, "type": "quantitative"}, "y": {"datum": 2717.0, "type": "quantitative"}, "text": {"value": "2716.75"}}}
  ]
},
{
  "width": 881, "height": 29,
  "data": {"name": "one"},
  "layer": [
    {"mark": {"type": "rect", "color": "#4a4a4a"},
     "encoding": {"x": {"datum": 339, "type": "quantitative", "scale": {"domain": [339, 779.5], "nice": false, "zero": false, "padding": 0}, "axis": null}, "x2": {"datum": 779.5},
       "y": {"datum": 2, "type": "quantitative", "scale": {"domain": [0, 29], "nice": false, "zero": false, "reverse": true, "padding": 0}, "axis": null}, "y2": {"datum": 8.8}}},
    {"mark": {"type": "rect", "color": "#07063c"},
     "encoding": {"x": {"datum": 339, "type": "quantitative"}, "x2": {"datum": 779.5}, "y": {"datum": 9.8, "type": "quantitative"}, "y2": {"datum": 28}}},
    {"mark": {"type": "rule", "color": "#8c5e10", "strokeWidth": 1},
     "encoding": {"x": {"datum": 339, "type": "quantitative"}, "x2": {"datum": 779.5}, "y": {"datum": 1.2, "type": "quantitative"}}},
    {"mark": {"type": "rule", "color": "#8c5e10", "strokeWidth": 1},
     "encoding": {"x": {"datum": 339, "type": "quantitative"}, "x2": {"datum": 779.5}, "y": {"datum": 9.3, "type": "quantitative"}}},
    {"mark": {"type": "rule", "color": "#8c5e10", "strokeWidth": 1.2},
     "encoding": {"x": {"datum": 339, "type": "quantitative"}, "x2": {"datum": 779.5}, "y": {"datum": 28.4, "type": "quantitative"}}},
    {"mark": {"type": "rule", "color": "#8c5e10", "strokeWidth": 1},
     "encoding": {"x": {"datum": 365, "type": "quantitative"}, "y": {"datum": 9.5, "type": "quantitative"}, "y2": {"datum": 28}}},
    {"mark": {"type": "rule", "color": "#8c5e10", "strokeWidth": 1},
     "encoding": {"x": {"datum": 379.5, "type": "quantitative"}, "y": {"datum": 9.5, "type": "quantitative"}, "y2": {"datum": 28}}},
    {"mark": {"type": "rule", "color": "#8c5e10", "strokeWidth": 1},
     "encoding": {"x": {"datum": 779.5, "type": "quantitative"}, "y": {"datum": 0, "type": "quantitative"}, "y2": {"datum": 29}}},
    {"mark": {"type": "text", "font": "DejaVu Sans Mono", "fontSize": 12, "color": "#d8d8d8", "align": "left", "baseline": "middle"},
     "encoding": {"x": {"datum": 343, "type": "quantitative"}, "y": {"datum": 18.5, "type": "quantitative"}, "text": {"value": "Volume"}}},
    {"mark": {"type": "text", "font": "DejaVu Sans Mono", "fontSize": 12, "color": "#d8d8d8", "align": "left", "baseline": "middle"},
     "encoding": {"x": {"datum": 367, "type": "quantitative"}, "y": {"datum": 18.5, "type": "quantitative"}, "text": {"value": "348"}}}
  ]
},
{
  "width": 881, "height": 155,
  "view": {"fill": "#0a0152", "stroke": null},
  "encoding": {
    "x": {"field": "m", "type": "quantitative", "scale": {"domain": [339, 779.5], "nice": false, "zero": false, "padding": 0},
      "axis": {"orient": "bottom", "values": [360,390,420,450,480,510,540,570,600,630,660,690,720,750], "grid": true, "tickSize": -6, "labelPadding": 20, "labelAlign": "left", "labelBaseline": "middle", "labelFontSize": 12, "labelFlush": false, "labelOverlap": false, "labelBound": false, "domain": true, "title": null,
        "labelExpr": "datum.value == 360 ? 'Wed' : floor(datum.value / 60) + ':' + (datum.value % 60 == 0 ? '00' : '30')"}}
  },
  "layer": [
    {"data": {"name": "vol"},
     "mark": {"type": "bar", "width": 1, "color": "#3838c8", "xOffset": 0.5},
     "encoding": {
      "y": {"field": "v", "type": "quantitative", "scale": {"domain": [0, 5700], "nice": false, "zero": true, "padding": 0},
        "axis": {"orient": "right", "values": [0,1000,2000,3000,4000,5000], "format": ",d", "grid": true, "tickSize": -6, "labelPadding": 12, "labelFontSize": 11.5, "labelBaseline": "middle", "labelOverlap": false, "domain": true, "title": null}}
     }},
    {"data": {"name": "halfhours"},
     "mark": {"type": "rule", "color": "#8c5e10", "strokeWidth": 1},
     "encoding": {
      "y": {"datum": 5700, "type": "quantitative", "scale": {"domain": [0, 5700], "nice": false, "zero": true, "padding": 0},
        "axis": {"orient": "right", "values": [0,1000,2000,3000,4000,5000], "format": ",d", "grid": true, "tickSize": -6, "labelPadding": 12, "labelFontSize": 11.5, "labelBaseline": "middle", "labelOverlap": false, "domain": true, "title": null}},
      "y2": {"datum": 5480}
     }}
  ]
}
],
"spacing": 0,
"bounds": "flush"
}
